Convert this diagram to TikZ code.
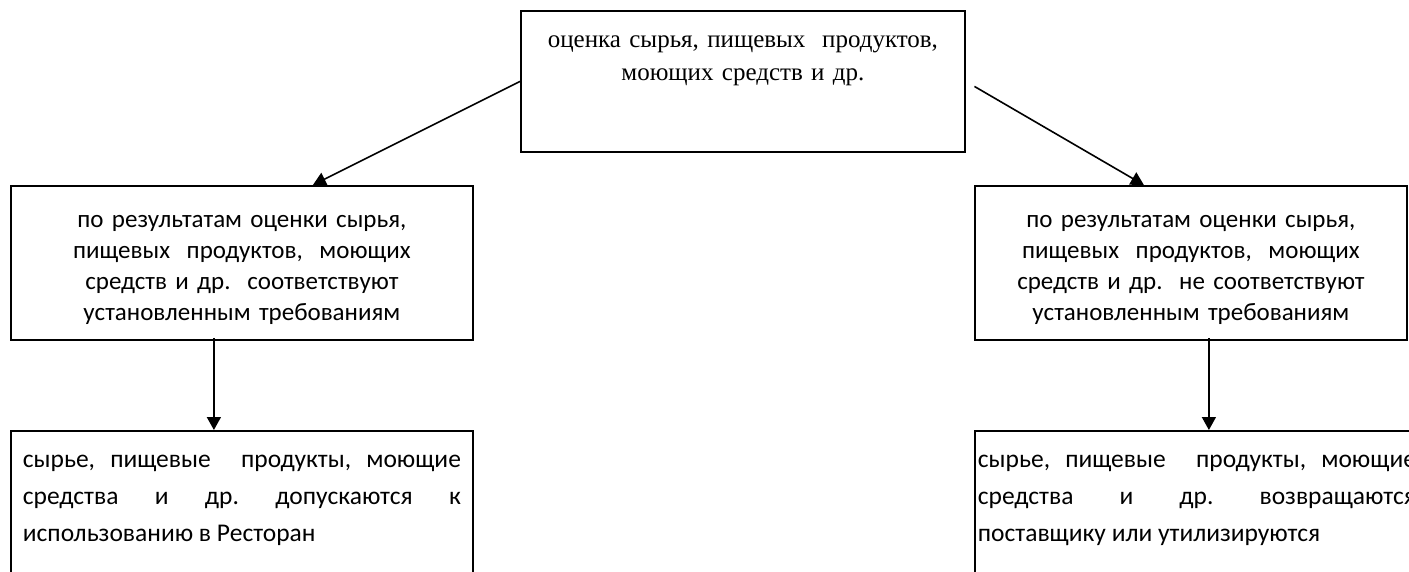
\documentclass[tikz,border=0pt]{standalone}
\usepackage{fontspec}
\setmainfont{Liberation Serif}
\newfontfamily\calibri{Carlito}
\usetikzlibrary{arrows.meta}
\frenchspacing

\begin{document}
\begin{tikzpicture}
    [x=1pt, y=-1pt, line width=1.8pt,
    box/.style={draw, anchor=north west, inner sep=0pt},
    midbox/.style={box, align=center, font=\calibri\fontsize{25}{31}\selectfont,
        text height=42pt, text depth=112pt},
    endbox/.style={box, align=justify, text width=438pt, inner xsep=12pt,
        font=\calibri\fontsize{25.5}{37}\selectfont, text height=37pt, text depth=200pt},
    arr/.style={-{Triangle[width=14pt,length=13pt]}, line width=1.6pt}]

\useasboundingbox (0,0) rectangle (1409,572);

\node[box, align=center, text width=444pt, text height=37pt, text depth=104pt,
    font=\fontsize{25}{33}\selectfont] (ocenka) at (520,10)
    {оценка сырья, пищевых\ \ продуктов,\\ моющих средств и др.};
\node[midbox, text width=462pt] (da) at (10,185)
    {по результатам оценки сырья,\\ пищевых\ \ продуктов,\ \ моющих\\ средств и др.\ \ соответствуют\\ установленным требованиям};
\node[midbox, text width=432pt] (net) at (974,185)
    {по результатам оценки сырья,\\ пищевых\ \ продуктов,\ \ моющих\\ средств и др.\ \ не соответствуют\\ установленным требованиям};
\node[endbox] (dopusk) at (10,430)
    {сырье, пищевые\ \ продукты, моющие\linebreak средства и др. допускаются к\linebreak использованию в Ресторан};
\node[endbox, inner xsep=3pt] (vozvrat) at (974,430)
    {сырье, пищевые\ \ продукты, моющие\linebreak средства и др. возвращаются\linebreak поставщику или утилизируются};

\draw[arr] (ocenka.west) -- ([xshift=71pt]da.north);
\draw[arr, shorten <=10pt] (ocenka.east) -- ([xshift=-47pt]net.north);
\draw[arr, shorten <=-3pt] ([xshift=-28pt]da.south) -- ([xshift=-28pt]dopusk.north);
\draw[arr, shorten <=-3pt] ([xshift=18pt]net.south) -- ([xshift=12pt]vozvrat.north);
\end{tikzpicture}
\end{document}
